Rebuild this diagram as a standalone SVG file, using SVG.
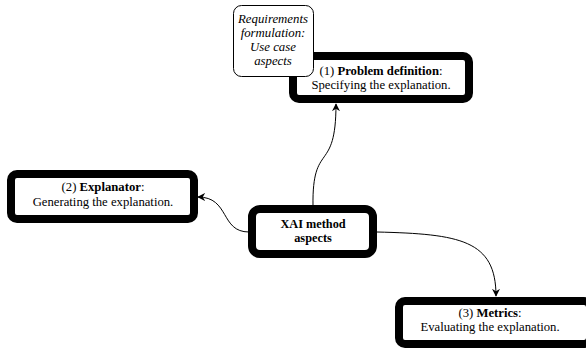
<svg xmlns="http://www.w3.org/2000/svg" width="586" height="349" viewBox="0 0 586 349">
<defs>
<marker id="arr" viewBox="0 0 10 10" refX="9" refY="5" markerWidth="8" markerHeight="8" markerUnits="userSpaceOnUse" orient="auto">
<path d="M0,0 L10,5 L0,10 L3,5 Z" fill="#000"/>
</marker>
<style>
.thick{fill:#fff;stroke:#000;stroke-width:8}
.thin{fill:#fff;stroke:#000;stroke-width:1}
text{font-family:"Liberation Serif","Times New Roman",serif;font-size:12.7px;fill:#000;text-anchor:middle}
.b{font-weight:bold}
.i{font-style:italic;font-size:12.8px}
.x{font-weight:bold;font-size:12.3px}
.edge{fill:none;stroke:#000;stroke-width:1;marker-end:url(#arr)}
</style>
</defs>
<rect width="586" height="349" fill="#fff"/>
<g id="connectors">
<path class="edge" d="M313,206 C312,140 336,175 336,104"/>
<path class="edge" d="M249,232 C220,232 230,197 198,197"/>
<path class="edge" d="M377,232 C460,234 496,240 496,296"/>
</g>
<g id="problem">
<rect class="thick" x="293" y="56" width="176" height="43" rx="6"/>
<text x="381" y="75">(1) <tspan class="b">Problem definition</tspan>:</text>
<text x="381" y="89">Specifying the explanation.</text>
</g>
<g id="requirements">
<rect class="thin" x="233.5" y="5.5" width="80" height="71" rx="8"/>
<text class="i" x="273" y="23">Requirements</text>
<text class="i" x="273" y="37">formulation:</text>
<text class="i" x="273" y="51">Use case</text>
<text class="i" x="273" y="65">aspects</text>
</g>
<g id="explanator">
<rect class="thick" x="11" y="174" width="183" height="45" rx="6"/>
<text x="103" y="191">(2) <tspan class="b">Explanator</tspan>:</text>
<text x="103" y="206">Generating the explanation.</text>
</g>
<g id="xai">
<rect class="thick" x="252" y="209" width="121" height="45" rx="8"/>
<text class="x" x="313" y="228">XAI method</text>
<text class="x" x="313" y="242">aspects</text>
</g>
<g id="metrics">
<rect class="thick" x="399" y="301" width="191" height="43" rx="6"/>
<text x="490" y="317">(3) <tspan class="b">Metrics</tspan>:</text>
<text x="490" y="331">Evaluating the explanation.</text>
</g>
</svg>
